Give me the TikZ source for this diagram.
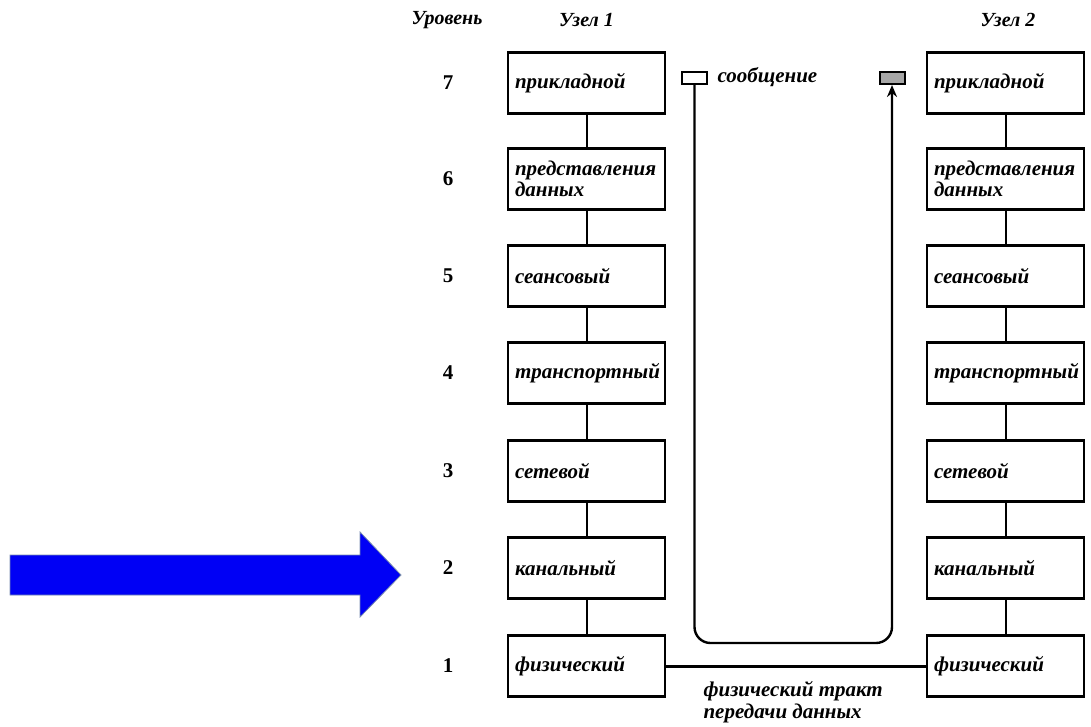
\documentclass[tikz,border=0pt]{standalone}
\usepackage{fontspec}
\setmainfont{Liberation Serif}
\usetikzlibrary{arrows.meta}
\definecolor{pointerblue}{RGB}{0,0,245}
\definecolor{pointeredge}{RGB}{120,140,175}
\begin{document}
\begin{tikzpicture}[x=1pt,y=-1pt,
  layer/.style={draw=black, line width=2.4pt, minimum width=157pt, minimum height=61pt,
    text width=143pt, align=left, inner sep=7pt,
    font=\fontsize{21}{21}\selectfont\bfseries\itshape},
  head/.style={font=\fontsize{20}{20}\selectfont\bfseries\itshape},
  levelno/.style={font=\fontsize{21}{22}\selectfont\bfseries},
  label/.style={font=\fontsize{21}{22}\selectfont\bfseries\itshape},
  link/.style={line width=2pt},
  route/.style={line width=2.4pt, rounded corners=16pt},
  tag/.style={draw=black, line width=2pt, minimum width=25pt, minimum height=12pt, inner sep=0pt}
]
\useasboundingbox (0,0) rectangle (1091,726);

% column headings
\node[head] (hlevel) at (447,20) {Уровень};
\node[head] (hnode1) at (586.5,20) {Узел 1};
\node[head] (hnode2) at (1008,20) {Узел 2};

% layer boxes of both nodes with level numbers
\foreach \n/\y/\name in {7/83/прикладной, 6/179/{представления\\данных}, 5/276/сеансовый,
    4/373/транспортный, 3/471/сетевой, 2/568/канальный, 1/666/физический} {
  \node[levelno] (lv\n) at (448,\y) {\n};
  \node[layer] (a\n) at (586.5,\y) {\name};
  \node[layer] (b\n) at (1005.5,\y) {\name};
}

% links between neighbouring layers
\foreach \u/\l in {7/6, 6/5, 5/4, 4/3, 3/2, 2/1} {
  \draw[link] (a\u.south) -- (a\l.north);
  \draw[link] (b\u.south) -- (b\l.north);
}

% physical channel
\draw[line width=3pt] (a1.east) -- (b1.west);
\node[label, align=left, anchor=north west]
  (chan) at (700,678) {физический тракт\\передачи данных};

% message path
\node[tag] (msgA) at (694.5,78) {};
\node[tag, fill=black!35] (msgB) at (892,78) {};
\node[label, anchor=west] (msg) at (714,77) {сообщение};
\coordinate (low) at (694.5,643);
\draw[route, -{Stealth[length=12pt,width=10pt]}] (msgA.south) -- (low) -- (msgB.south |- low) -- (msgB.south);

% pointer arrow
\filldraw[fill=pointerblue, draw=pointeredge, line width=0.8pt]
  (10,555) -- (360,555) -- (360,532) -- (401,575) -- (360,617) -- (360,595) -- (10,595) -- cycle;
\end{tikzpicture}
\end{document}
